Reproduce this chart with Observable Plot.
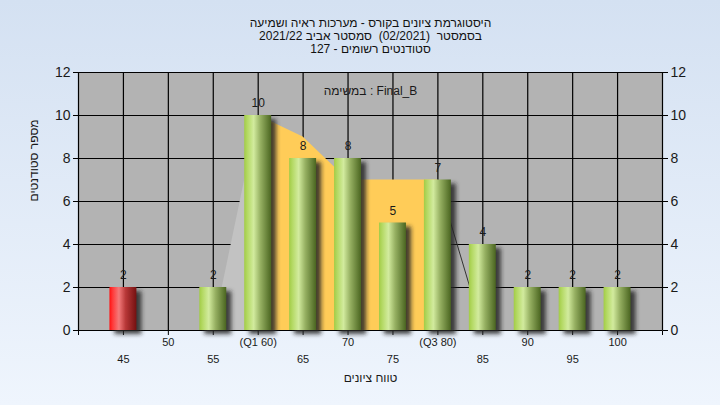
<!DOCTYPE html>
<html>
<head>
<meta charset="utf-8">
<script src="https://cdn.jsdelivr.net/npm/d3@7"></script>
<script src="https://cdn.jsdelivr.net/npm/@observablehq/plot@0.6"></script>
<style>
  html, body { margin: 0; padding: 0; }
  body { width: 720px; height: 405px; background: linear-gradient(#d4e1f2, #eff5fd); overflow: hidden; }
</style>
</head>
<body>
<div id="chart"></div>
<script>
// ---- data ----
const scores = [45, 50, 55, 60, 65, 70, 75, 80, 85, 90, 95, 100];
const counts = [2, 0, 2, 10, 8, 8, 5, 7, 4, 2, 2, 2];
const tickLabels = ["45", "50", "55", "(Q1 60)", "65", "70", "75", "(Q3 80)", "85", "90", "95", "100"];
const yTicks = [0, 2, 4, 6, 8, 10, 12];
const gridX = [40, 45, 50, 55, 60, 65, 70, 75, 80, 85, 90, 95, 100, 105];
const curveX = [55, 60, 65, 70, 75, 80, 85];
const curveY = [0, 10, 9, 7, 7, 7, 0];
const passMark = 55;
const q1 = 60, q3 = 80;
const titleLines = [
  "היסטוגרמת ציונים בקורס - מערכות ראיה ושמיעה",
  "בסמסטר  (02/2021)  סמסטר אביב 2021/22",
  "סטודנטים רשומים - 127"
];
const taskLabel = "במשימה : Final_B";
const xTitle = "טווח ציונים";
const yTitle = "מספר סטודנטים";

// ---- tables ----
const bars = scores.map((s, i) => ({score: s, count: counts[i]})).filter(d => d.count > 0);
const ticks = scores.map((s, i) => ({score: s, label: tickLabels[i], row: i % 2 === 0 ? 2 : 1}));
const curve = curveX.map((x, i) => ({x, y: curveY[i]}));
const font = "'Liberation Sans', Arial, sans-serif";
const halfW = 1.5;

const plot = Plot.plot({
  width: 720,
  height: 405,
  marginTop: 72,
  marginBottom: 75,
  marginLeft: 78,
  marginRight: 58,
  style: {background: "transparent", fontFamily: font, fontSize: "14px", color: "#1a1a1a"},
  x: {domain: [40, 105], ticks: gridX, tickFormat: () => "", tickSize: 5, label: null},
  y: {domain: [0, 12], axis: "both", ticks: yTicks, tickSize: 5, tickPadding: 3, label: null},
  marks: [
    Plot.frame({fill: "#b3b3b3", stroke: null}),
    Plot.ruleY(yTicks, {stroke: "#000", strokeWidth: 1.2}),
    Plot.ruleX(gridX, {stroke: "#000", strokeWidth: 1.2}),
    Plot.areaY(curve.filter(d => d.x <= q1), {x: "x", y: "y", fill: "#c2c2c2"}),
    Plot.areaY(curve.filter(d => d.x >= q1 && d.x <= q3), {x: "x", y: "y", fill: "#ffcc58"}),
    Plot.line(curve.filter(d => d.x >= q3), {x: "x", y: "y", stroke: "#333", strokeWidth: 1}),
    // shadows
    Plot.rectY(bars, {x1: d => d.score - halfW, x2: d => d.score + halfW, y: "count", fill: "#262626", fillOpacity: 0.85, dx: 5, dy: 4}),
    // bars
    Plot.rectY(bars.filter(d => d.score < passMark), {x1: d => d.score - halfW, x2: d => d.score + halfW, y: "count", fill: "url(#gRed)"}),
    Plot.rectY(bars.filter(d => d.score >= passMark), {x1: d => d.score - halfW, x2: d => d.score + halfW, y: "count", fill: "url(#gGreen)"}),
    // value labels
    Plot.text(bars, {x: "score", y: "count", text: d => String(d.count), dy: -12, fontSize: 12, fill: "#1a1a1a"}),
    // x tick labels
    Plot.text(ticks.filter(d => d.row === 1), {x: "score", text: "label", frameAnchor: "bottom", dy: 15, fontSize: 11, fill: "#1a1a1a"}),
    Plot.text(ticks.filter(d => d.row === 2), {x: "score", text: "label", frameAnchor: "bottom", dy: 32, fontSize: 11, fill: "#1a1a1a"}),
    // titles
    Plot.text([xTitle], {frameAnchor: "bottom", dy: 51, fontSize: 12, fill: "#1a1a1a"}),
    Plot.text([yTitle], {frameAnchor: "left", dx: -44, rotate: -90, fontSize: 12, fill: "#1a1a1a"}),
    Plot.text([taskLabel], {frameAnchor: "top", dy: 14, fontSize: 12, fill: "#1a1a1a"}),
    Plot.text([titleLines[0]], {frameAnchor: "top", dy: -54, fontSize: 12, fill: "#111"}),
    Plot.text([titleLines[1]], {frameAnchor: "top", dy: -41, fontSize: 12, fill: "#111"}),
    Plot.text([titleLines[2]], {frameAnchor: "top", dy: -28, fontSize: 12, fill: "#111"})
  ]
});

const svg = d3.select(plot);
const defs = svg.insert("defs", ":first-child");
const g1 = defs.append("linearGradient").attr("id", "gGreen").attr("x1", "0").attr("x2", "1").attr("y1", "0").attr("y2", "0");
[["0%", "#a2cc46"], ["12%", "#b4d964"], ["35%", "#d2eb9e"], ["60%", "#96b062"], ["100%", "#4a6520"]].forEach(([o, c]) => g1.append("stop").attr("offset", o).attr("stop-color", c));
const g2 = defs.append("linearGradient").attr("id", "gRed").attr("x1", "0").attr("x2", "1").attr("y1", "0").attr("y2", "0");
[["0%", "#ff1010"], ["12%", "#ff3a3a"], ["35%", "#f37a7a"], ["60%", "#b83838"], ["100%", "#741010"]].forEach(([o, c]) => g2.append("stop").attr("offset", o).attr("stop-color", c));
const f = defs.append("filter").attr("id", "blur").attr("x", "-50%").attr("y", "-20%").attr("width", "200%").attr("height", "140%");
f.append("feGaussianBlur").attr("stdDeviation", 2.2);
svg.selectAll("g").filter(function() { return this.getAttribute("fill") === "#262626"; }).attr("filter", "url(#blur)");
svg.selectAll("g[aria-label='y-axis tick'] path, g[aria-label='x-axis tick'] path").attr("stroke", "#000");

document.getElementById("chart").appendChild(plot);
</script>
</body>
</html>
